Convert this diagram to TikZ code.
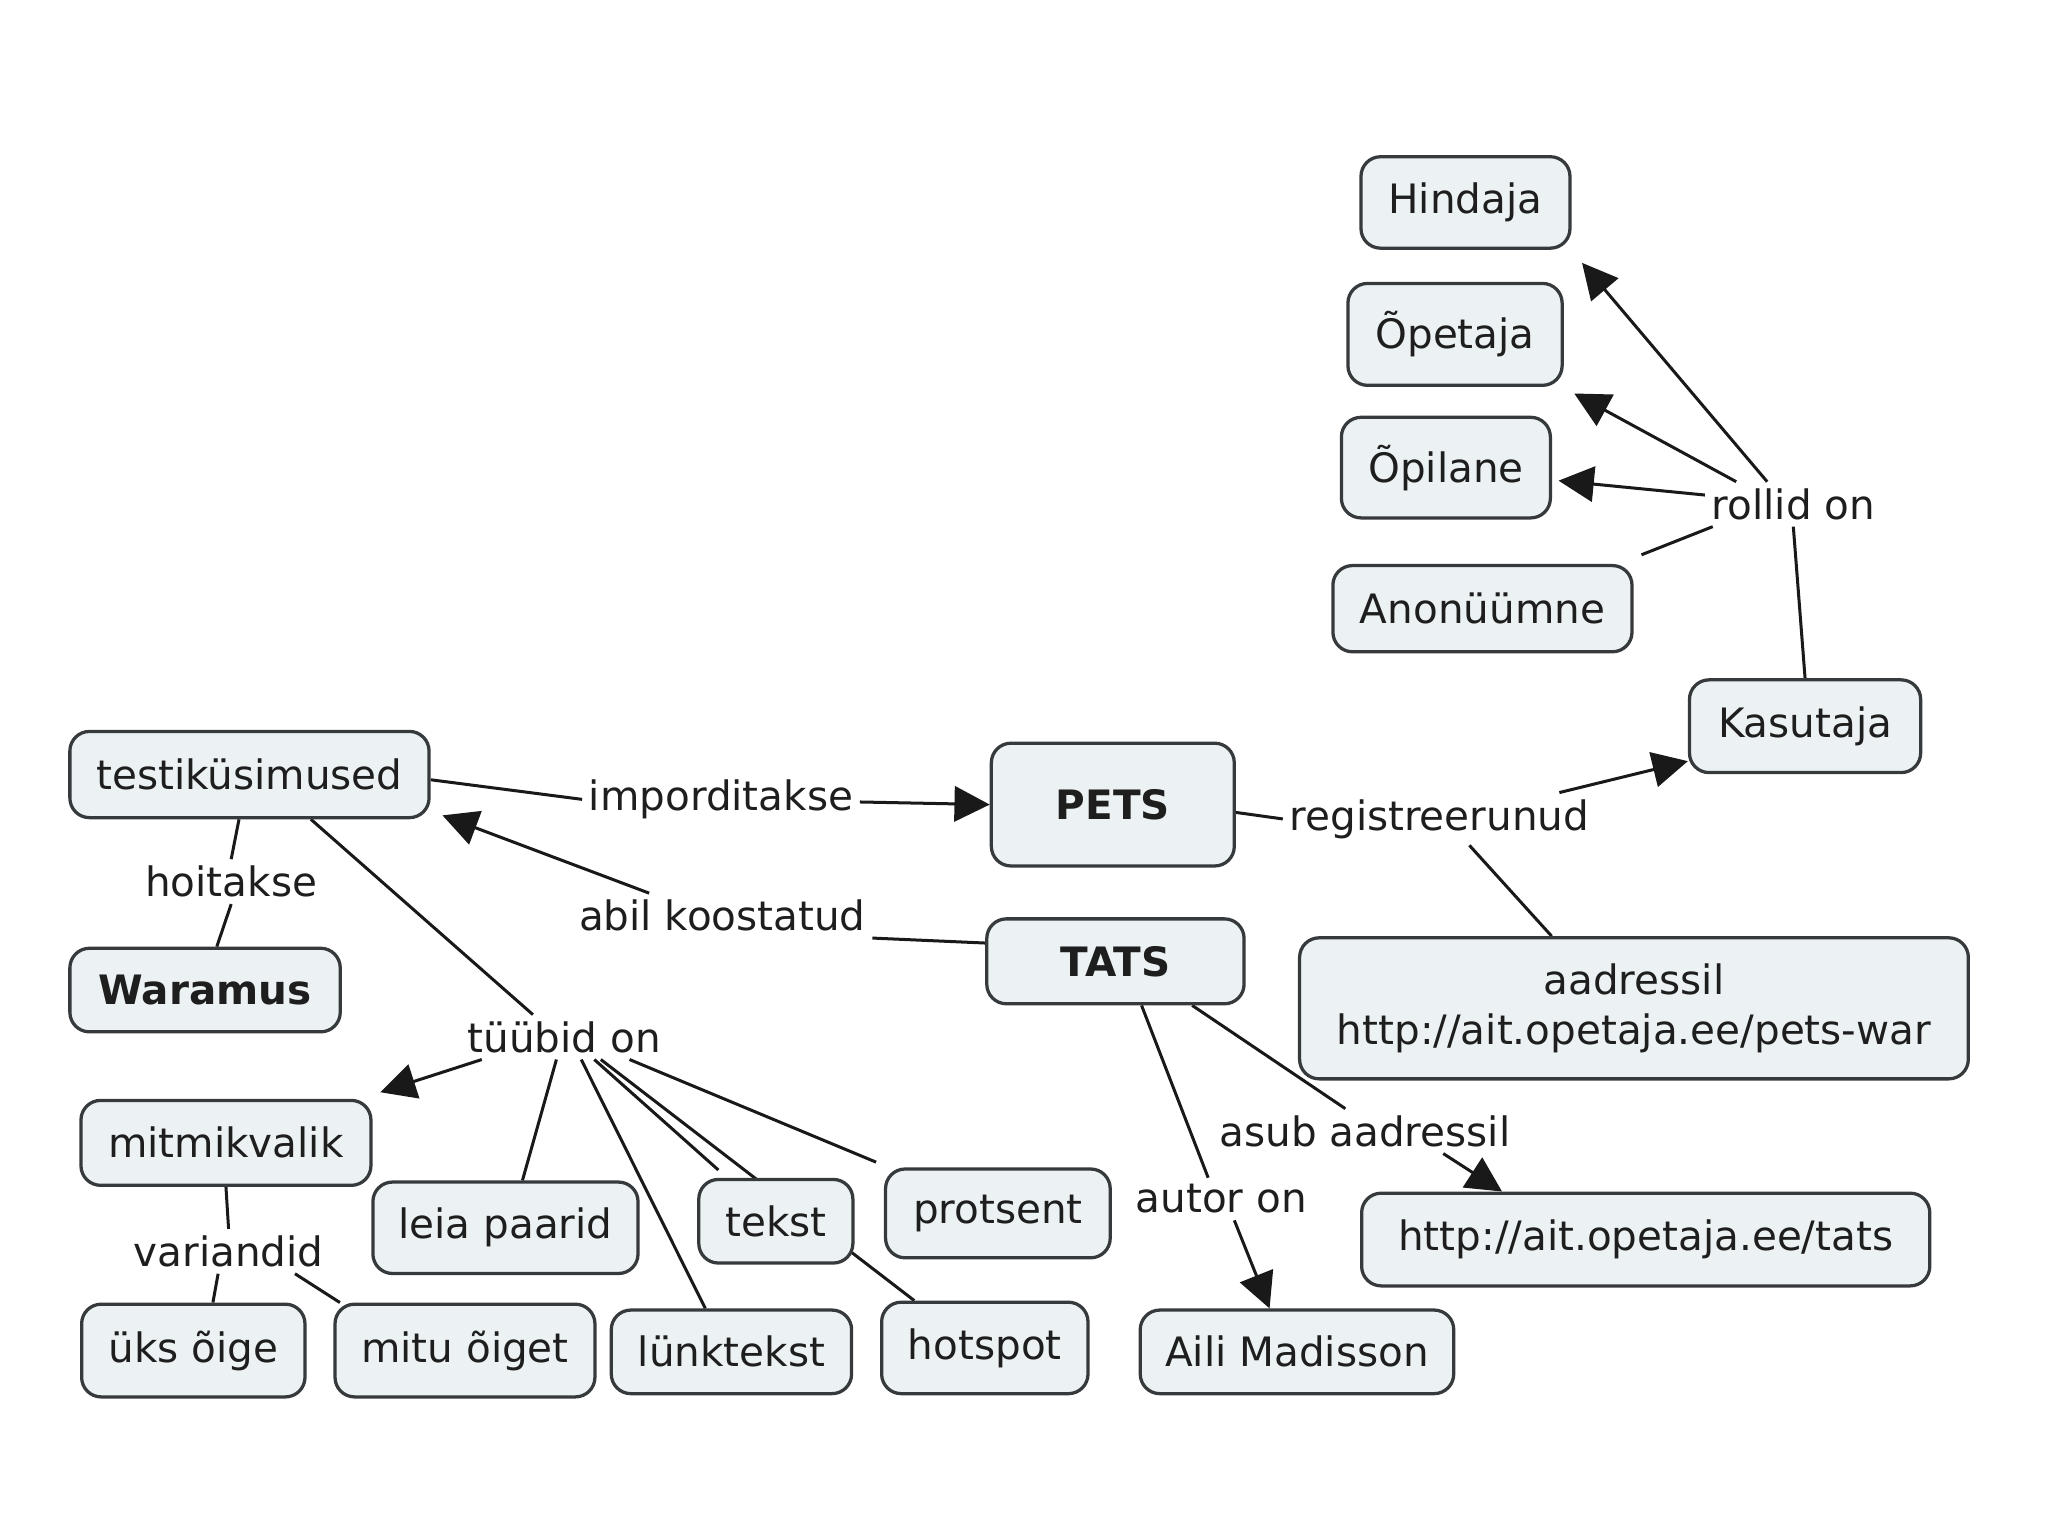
\documentclass[tikz,border=0pt]{standalone}
\usepackage{fontspec}
\setmainfont{DejaVu Sans}
\usetikzlibrary{arrows.meta}
\pgfdeclarelayer{background}
\pgfdeclarelayer{paper}
\pgfsetlayers{paper,background,main}
\definecolor{boxfill}{RGB}{236,242,243}
\definecolor{boxline}{RGB}{55,58,60}
\definecolor{txt}{RGB}{30,30,30}
\tikzset{
  box/.style={draw=boxline, line width=2.5pt, rounded corners=15pt, fill=boxfill,
    text=txt, font=\fontsize{31}{39}\selectfont, align=center, inner sep=0pt},
  bbox/.style={box, font=\fontsize{31}{39}\selectfont\bfseries},
  lab/.style={text=txt, font=\fontsize{31}{37}\selectfont, inner sep=5pt},
  con/.style={draw=black!90, line width=2.3pt},
  arr/.style={con, -{Triangle[length=27pt,width=27pt]}}
}
\begin{document}
\begin{tikzpicture}[x=1pt,y=-1pt]
\begin{pgfonlayer}{paper}
\fill[white] (0,0) rectangle (1568,1176);
\end{pgfonlayer}
\useasboundingbox (0,0) rectangle (1568,1176);
% boxes
\node[box, minimum width=160pt, minimum height=70pt] (hind) at (1122,155) {Hindaja};
\node[box, minimum width=164pt, minimum height=78pt] (opet) at (1114,256) {Õpetaja};
\node[box, minimum width=160pt, minimum height=77pt] (opil) at (1107,358) {Õpilane};
\node[box, minimum width=229pt, minimum height=66pt] (anon) at (1135,466) {Anonüümne};
\node[box, minimum width=177pt, minimum height=71pt] (kas) at (1382,556) {Kasutaja};
\node[lab] (rollid) at (1373,386) {rollid on};
\node[box, minimum width=275pt, minimum height=66pt] (test) at (191,593) {testiküsimused};
\node[lab] (hoit) at (177,675) {hoitakse};
\node[bbox, minimum width=207pt, minimum height=64pt] (war) at (157,758) {Waramus};
\node[lab] (imp) at (552,612) {imporditakse};
\node[bbox, minimum width=186pt, minimum height=94pt] (pets) at (852,616) {PETS};
\node[lab] (reg) at (1102,627) {registreerunud};
\node[lab] (abil) at (553,701) {abil koostatud};
\node[bbox, minimum width=197pt, minimum height=65pt] (tats) at (854,736) {TATS};
\node[box, minimum width=512pt, minimum height=108pt] (paddr) at (1251,772) {aadressil\\http://ait.opetaja.ee/pets-war};
\node[lab] (tyyb) at (432,794) {tüübid on};
\node[box, minimum width=222pt, minimum height=65pt] (mitmik) at (173,875) {mitmikvalik};
\node[lab] (var) at (175,958) {variandid};
\node[box, minimum width=203pt, minimum height=70pt] (leia) at (387,940) {leia paarid};
\node[box, minimum width=118pt, minimum height=64pt] (tekst) at (594,935) {tekst};
\node[box, minimum width=172pt, minimum height=68pt] (prots) at (764,929) {protsent};
\node[box, minimum width=171pt, minimum height=71pt] (uks) at (148,1034) {üks õige};
\node[box, minimum width=199pt, minimum height=71pt] (mitu) at (356,1034) {mitu õiget};
\node[box, minimum width=184pt, minimum height=64pt] (lunk) at (560,1035) {lünktekst};
\node[box, minimum width=158pt, minimum height=70pt] (hots) at (754,1032) {hotspot};
\node[box, minimum width=240pt, minimum height=64pt] (aili) at (993,1035) {Aili Madisson};
\node[lab] (autor) at (935,918) {autor on};
\node[lab] (asub) at (1045,866) {asub aadressil};
\node[box, minimum width=435pt, minimum height=71pt] (turl) at (1260,949) {http://ait.opetaja.ee/tats};
\begin{pgfonlayer}{background}
% roles
\draw[con] (kas.north) -- (rollid.south);
\draw[arr] ([xshift=-20pt]rollid.north) -- ([xshift=8pt,yshift=-10pt]hind.south east);
\draw[arr] ([xshift=24pt]rollid.north west) -- ([xshift=8pt,yshift=-5pt]opet.south east);
\draw[arr] ([yshift=7pt]rollid.west) -- ([xshift=5pt,yshift=-10pt]opil.east);
\draw[con] ([xshift=6pt]rollid.south west) -- ([xshift=6pt,yshift=7pt]anon.north east);
% PETS
\draw[con] ([yshift=-4pt]test.east) -- (imp.west);
\draw[arr] ([yshift=-2pt]imp.east) -- (pets.west);
\draw[con] ([yshift=-6pt]pets.east) -- (reg.west);
\draw[arr] ([xshift=-28pt]reg.north east) -- ([yshift=10pt]kas.south west);
\draw[con] ([xshift=23pt]reg.south) -- ([xshift=-63pt]paddr.north);
% TATS
\draw[con] ([yshift=14pt]tats.west) -- (abil.south east);
\draw[arr] ([xshift=-56pt]abil.north) -- ([xshift=9pt,yshift=3pt]test.south east);
\draw[con] ([xshift=20pt]tats.south) -- ([xshift=-10pt]autor.north);
\draw[arr] ([xshift=10pt]autor.south) -- ([xshift=-21pt]aili.north);
\draw[con] ([xshift=-41pt]tats.south east) -- ([xshift=-15pt]asub.north);
\draw[arr] ([xshift=60pt]asub.south) -- ([xshift=-110pt]turl.north);
% Waramus
\draw[con] ([xshift=-8pt]test.south) -- (hoit.north);
\draw[con] (hoit.south) -- ([xshift=9pt]war.north);
% types
\draw[con] ([xshift=47pt]test.south) -- ([xshift=-24pt]tyyb.north);
\draw[arr] ([xshift=16pt]tyyb.south west) -- ([xshift=6pt,yshift=5pt]mitmik.north east);
\draw[con] ([xshift=-6pt]tyyb.south) -- ([xshift=13pt]leia.north);
\draw[con] ([xshift=13pt]tyyb.south) -- ([xshift=-20pt]lunk.north);
\draw[con] ([xshift=23pt]tyyb.south) -- ([xshift=-44pt,yshift=6pt]tekst.north);
\draw[con] ([xshift=28pt]tyyb.south) -- ([xshift=-54pt]hots.north);
\draw[con] ([xshift=50pt]tyyb.south) -- ([xshift=-6pt,yshift=4pt]prots.north west);
% variants
\draw[con] (mitmik.south) -- (var.north);
\draw[con] ([xshift=-8pt]var.south) -- ([xshift=15pt]uks.north);
\draw[con] ([xshift=-27pt]var.south east) -- ([xshift=5pt]mitu.north west);
\end{pgfonlayer}
\end{tikzpicture}
\end{document}
